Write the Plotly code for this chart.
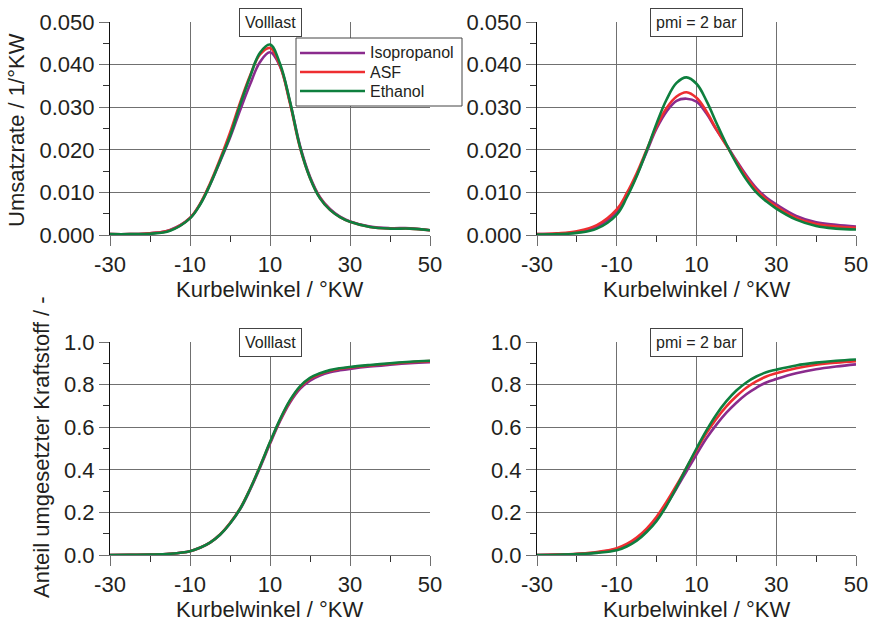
import plotly.graph_objects as go

# ---------------- data ----------------
angle = [-30, -25, -20, -15, -10, -7.5, -5, -2.5, 0, 2.5, 5, 7.5, 10, 12.5,
         15, 17.5, 20, 22.5, 25, 27.5, 30, 35, 40, 45, 50]

# Umsatzrate, Volllast
rate_vl_iso = [0.0002, 0.0002, 0.0004, 0.0012, 0.0040, 0.0072, 0.0118, 0.0172, 0.0228, 0.0292, 0.0353, 0.0406,
               0.0429, 0.0396, 0.0312, 0.0210, 0.0137, 0.0089, 0.0061, 0.0043, 0.0032, 0.0020, 0.0016, 0.0016, 0.0011]
rate_vl_asf = [0.0002, 0.0002, 0.0004, 0.0011, 0.0040, 0.0073, 0.0121, 0.0178, 0.0240, 0.0310, 0.0374, 0.0424,
               0.0439, 0.0397, 0.0309, 0.0205, 0.0134, 0.0087, 0.0059, 0.0042, 0.0031, 0.0019, 0.0015, 0.0015, 0.0011]
rate_vl_eth = [0.0002, 0.0002, 0.0003, 0.0010, 0.0039, 0.0071, 0.0118, 0.0174, 0.0232, 0.0305, 0.0371, 0.0428,
               0.0447, 0.0402, 0.0313, 0.0207, 0.0134, 0.0086, 0.0059, 0.0042, 0.0031, 0.0019, 0.0015, 0.0015, 0.0011]

# Umsatzrate, pmi = 2 bar
rate_pm_iso = [0.0002, 0.0003, 0.0007, 0.0020, 0.0055, 0.0092, 0.0140, 0.0195, 0.0250, 0.0290, 0.0315, 0.0320,
               0.0313, 0.0285, 0.0247, 0.0212, 0.0175, 0.0140, 0.0110, 0.0088, 0.0072, 0.0045, 0.0030, 0.0024, 0.0020]
rate_pm_asf = [0.0002, 0.0004, 0.0009, 0.0023, 0.0060, 0.0098, 0.0145, 0.0200, 0.0255, 0.0298, 0.0325, 0.0335,
               0.0322, 0.0290, 0.0248, 0.0210, 0.0172, 0.0136, 0.0106, 0.0084, 0.0067, 0.0040, 0.0026, 0.0020, 0.0017]
rate_pm_eth = [0.0001, 0.0002, 0.0005, 0.0015, 0.0048, 0.0088, 0.0138, 0.0198, 0.0262, 0.0318, 0.0357, 0.0370,
               0.0355, 0.0315, 0.0263, 0.0213, 0.0168, 0.0130, 0.0100, 0.0079, 0.0062, 0.0036, 0.0021, 0.0015, 0.0013]

# Anteil umgesetzter Kraftstoff, Volllast
frac_vl_iso = [0.000, 0.001, 0.002, 0.006, 0.018, 0.034, 0.058, 0.095, 0.148, 0.214, 0.305, 0.410,
               0.522, 0.628, 0.716, 0.780, 0.819, 0.843, 0.858, 0.867, 0.874, 0.885, 0.893, 0.900, 0.905]
frac_vl_asf = [0.000, 0.001, 0.002, 0.006, 0.018, 0.034, 0.058, 0.096, 0.150, 0.218, 0.310, 0.416,
               0.528, 0.634, 0.723, 0.788, 0.828, 0.850, 0.865, 0.874, 0.880, 0.890, 0.898, 0.905, 0.910]
frac_vl_eth = [0.000, 0.001, 0.002, 0.006, 0.018, 0.034, 0.058, 0.095, 0.148, 0.216, 0.309, 0.416,
               0.530, 0.637, 0.727, 0.792, 0.832, 0.853, 0.868, 0.877, 0.883, 0.892, 0.900, 0.907, 0.912]

# Anteil umgesetzter Kraftstoff, pmi = 2 bar
frac_pm_iso = [0.000, 0.002, 0.005, 0.012, 0.028, 0.046, 0.075, 0.115, 0.170, 0.237, 0.313, 0.393,
               0.472, 0.548, 0.612, 0.668, 0.715, 0.755, 0.785, 0.810, 0.826, 0.853, 0.872, 0.885, 0.895]
frac_pm_asf = [0.000, 0.002, 0.006, 0.014, 0.032, 0.052, 0.082, 0.124, 0.180, 0.250, 0.328, 0.410,
               0.493, 0.572, 0.640, 0.698, 0.745, 0.785, 0.815, 0.838, 0.853, 0.877, 0.893, 0.903, 0.910]
frac_pm_eth = [0.000, 0.001, 0.004, 0.010, 0.022, 0.040, 0.067, 0.108, 0.160, 0.232, 0.318, 0.410,
               0.500, 0.585, 0.660, 0.722, 0.772, 0.810, 0.838, 0.858, 0.870, 0.890, 0.903, 0.912, 0.918]

fuels = ["Isopropanol", "ASF", "Ethanol"]
colors = ["#8A2B8D", "#EE2E31", "#0E7F3E"]

x_ticks = [-30, -10, 10, 30, 50]
x_minor = [-20, 0, 20, 40]
rate_ticks = [0.0, 0.01, 0.02, 0.03, 0.04, 0.05]
rate_minor = [0.005, 0.015, 0.025, 0.035, 0.045]
frac_ticks = [0.0, 0.2, 0.4, 0.6, 0.8, 1.0]
frac_minor = [0.1, 0.3, 0.5, 0.7, 0.9]

panel_titles = ["Volllast", "pmi = 2 bar"]
x_title = "Kurbelwinkel / °KW"
y_title_rate = "Umsatzrate / 1/°KW"
y_title_frac = "Anteil umgesetzter Kraftstoff / -"

# ---------------- figure ----------------
W, H = 873, 622
ml, mr, mt, mb = 110, 17, 22, 67
pw, ph = W - ml - mr, H - mt - mb

def px_x(p):
    return (p - ml) / pw

def px_y(p):
    return (H - mb - p) / ph

dom_x = [[0, px_x(430)], [px_x(537), 1]]
dom_y = [[px_y(235), 1], [0, px_y(342)]]

fig = go.Figure()

panels = [
    ("x", "y", [rate_vl_iso, rate_vl_asf, rate_vl_eth]),
    ("x2", "y2", [rate_pm_iso, rate_pm_asf, rate_pm_eth]),
    ("x3", "y3", [frac_vl_iso, frac_vl_asf, frac_vl_eth]),
    ("x4", "y4", [frac_pm_iso, frac_pm_asf, frac_pm_eth]),
]
for xa, ya, series in panels:
    for name, vals, col in zip(fuels, series, colors):
        fig.add_trace(go.Scatter(
            x=angle, y=vals, name=name, mode="lines",
            line=dict(color=col, width=2.6, shape="spline", smoothing=1.1),
            xaxis=xa, yaxis=ya, showlegend=False))

TXT = "#231F20"
GRID = "#707070"
FONT = "Liberation Sans, Arial, sans-serif"
font_tick = dict(family=FONT, size=22, color=TXT)

def xaxis(i, anchor):
    return dict(domain=dom_x[i], anchor=anchor, range=[-30, 50], automargin=False,
                tickmode="array", tickvals=x_ticks, ticktext=[str(v) for v in x_ticks],
                ticks="outside", ticklen=10, tickcolor=GRID, tickwidth=1,
                showgrid=True, gridcolor=GRID, gridwidth=1,
                showline=True, linecolor=GRID, linewidth=1,
                zeroline=False, tickfont=font_tick,
                minor=dict(tickmode="array", tickvals=x_minor, ticks="outside",
                           ticklen=6, tickcolor="#333", showgrid=False))

def yaxis(i, anchor, ticks, fmt, minor_vals, rng):
    return dict(domain=dom_y[i], anchor=anchor, range=rng, automargin=False,
                tickmode="array", tickvals=ticks, ticktext=[fmt.format(v) for v in ticks],
                ticks="outside", ticklen=10, tickcolor=GRID, tickwidth=1,
                showgrid=True, gridcolor=GRID, gridwidth=1,
                showline=True, linecolor="#111", linewidth=1.2,
                zeroline=False, tickfont=font_tick,
                minor=dict(tickmode="array", tickvals=minor_vals, ticks="outside",
                           ticklen=6, tickcolor="#333", showgrid=False))

fig.update_layout(
    template="none",
    width=W, height=H,
    margin=dict(l=ml, r=mr, t=mt, b=mb, autoexpand=False),
    paper_bgcolor="white", plot_bgcolor="white",
    font=dict(family=FONT, color=TXT),
    showlegend=False,
    xaxis=xaxis(0, "y"), yaxis=yaxis(0, "x", rate_ticks, "{:.3f}", rate_minor, [0, 0.05]),
    xaxis2=xaxis(1, "y2"), yaxis2=yaxis(0, "x2", rate_ticks, "{:.3f}", rate_minor, [0, 0.05]),
    xaxis3=xaxis(0, "y3"), yaxis3=yaxis(1, "x3", frac_ticks, "{:.1f}", frac_minor, [0, 1.0]),
    xaxis4=xaxis(1, "y4"), yaxis4=yaxis(1, "x4", frac_ticks, "{:.1f}", frac_minor, [0, 1.0]),
)

ann = []
shapes = []
# legend box (drawn manually to match the sample-line length of the original)
shapes.append(dict(type="rect", xref="paper", yref="paper", layer="above",
                   x0=px_x(296), x1=px_x(462), y0=px_y(106), y1=px_y(38),
                   fillcolor="white", line=dict(color="#444", width=1)))
for k, (name, col) in enumerate(zip(fuels, colors)):
    yy = 53 + 19 * k
    shapes.append(dict(type="line", xref="paper", yref="paper", layer="above",
                       x0=px_x(300), x1=px_x(365), y0=px_y(yy), y1=px_y(yy),
                       line=dict(color=col, width=2.6)))
    ann.append(dict(x=px_x(368), y=px_y(yy), xref="paper", yref="paper", text=name,
                    showarrow=False, xanchor="left", yanchor="middle",
                    font=dict(size=16, color=TXT)))
# panel labels
for xr, yr, txt in [("x", "y domain", panel_titles[0]), ("x2", "y2 domain", panel_titles[1]),
                    ("x3", "y3 domain", panel_titles[0]), ("x4", "y4 domain", panel_titles[1])]:
    ann.append(dict(x=10, y=1, xref=xr, yref=yr, text=txt, showarrow=False,
                    xanchor="center", yanchor="middle", font=dict(size=16, color=TXT),
                    bgcolor="white", bordercolor="#444", borderwidth=1, borderpad=5))
# x titles
for xc in [(110 + 430) / 2, (537 + 856) / 2]:
    for yc in [289, 609]:
        ann.append(dict(x=px_x(xc), y=px_y(yc), xref="paper", yref="paper", text=x_title,
                        showarrow=False, xanchor="center", yanchor="middle",
                        font=dict(size=22, color=TXT)))
# y titles
ann.append(dict(x=px_x(16), y=px_y(130), xref="paper", yref="paper", text=y_title_rate,
                showarrow=False, textangle=-90, xanchor="center", yanchor="middle",
                font=dict(size=22, color=TXT)))
ann.append(dict(x=px_x(41), y=px_y(447), xref="paper", yref="paper", text=y_title_frac,
                showarrow=False, textangle=-90, xanchor="center", yanchor="middle",
                font=dict(size=22, color=TXT)))
fig.update_layout(annotations=ann, shapes=shapes)

fig.write_html("out.html", config={"displayModeBar": False},
               post_script="document.body.style.margin='0';document.body.style.overflow='hidden';")
